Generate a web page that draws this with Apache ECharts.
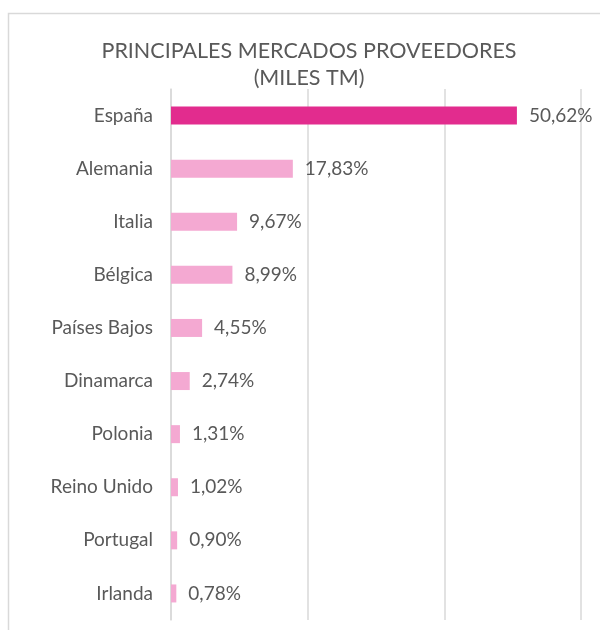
<!DOCTYPE html>
<html>
<head>
<meta charset="utf-8">
<script src="https://cdn.jsdelivr.net/npm/echarts@6/dist/echarts.min.js"></script>
<style>
  html, body { margin: 0; padding: 0; background: #fff; }
  #chart { width: 600px; height: 630px; }
</style>
</head>
<body>
<div id="chart"></div>
<script>
const titleLines = ['PRINCIPALES MERCADOS PROVEEDORES', '(MILES TM)'];
const countries = ['España', 'Alemania', 'Italia', 'Bélgica', 'Países Bajos',
  'Dinamarca', 'Polonia', 'Reino Unido', 'Portugal', 'Irlanda'];
const shares = [50.62, 17.83, 9.67, 8.99, 4.55, 2.74, 1.31, 1.02, 0.90, 0.78];

const FONT = 'Lato, "Open Sans", sans-serif';
const TEXT = '#595959';
const HIGHLIGHT = '#e22c8e';
const BASE = '#f4a9d2';

const chart = echarts.init(document.getElementById('chart'));

chart.setOption({
  animation: false,
  title: {
    text: titleLines.join('\n'),
    left: 304,
    top: 33,
    textAlign: 'center',
    textStyle: {
      fontFamily: FONT,
      fontSize: 21.5,
      fontWeight: 'normal',
      color: TEXT,
      lineHeight: 27,
    },
  },
  graphic: [{
    type: 'rect',
    shape: { x: 8.5, y: 13.5, width: 620, height: 640 },
    style: { fill: 'none', stroke: '#d9d9d9', lineWidth: 1.5 },
    silent: true,
  }],
  grid: { left: 171, right: 19, top: 89, bottom: 10, containLabel: false },
  xAxis: {
    type: 'value',
    min: 0,
    max: 60,
    interval: 20,
    axisLabel: { show: false },
    axisTick: { show: false },
    axisLine: { show: false },
    splitLine: { show: true, lineStyle: { color: '#d9d9d9', width: 1.5 } },
  },
  yAxis: {
    type: 'category',
    data: countries,
    inverse: true,
    axisTick: { show: false },
    axisLine: { show: true, lineStyle: { color: '#d9d9d9', width: 1.5 } },
    axisLabel: {
      fontFamily: FONT,
      fontSize: 19,
      color: TEXT,
      margin: 18,
    },
  },
  series: [{
    type: 'bar',
    barWidth: 18,
    data: shares.map((v, i) => ({
      value: v,
      itemStyle: { color: i === 0 ? HIGHLIGHT : BASE },
    })),
    label: {
      show: true,
      position: 'right',
      distance: 12,
      fontFamily: FONT,
      fontSize: 19,
      color: TEXT,
      formatter: (p) => p.value.toFixed(2).replace('.', ',') + '%',
    },
  }],
});
</script>
</body>
</html>
